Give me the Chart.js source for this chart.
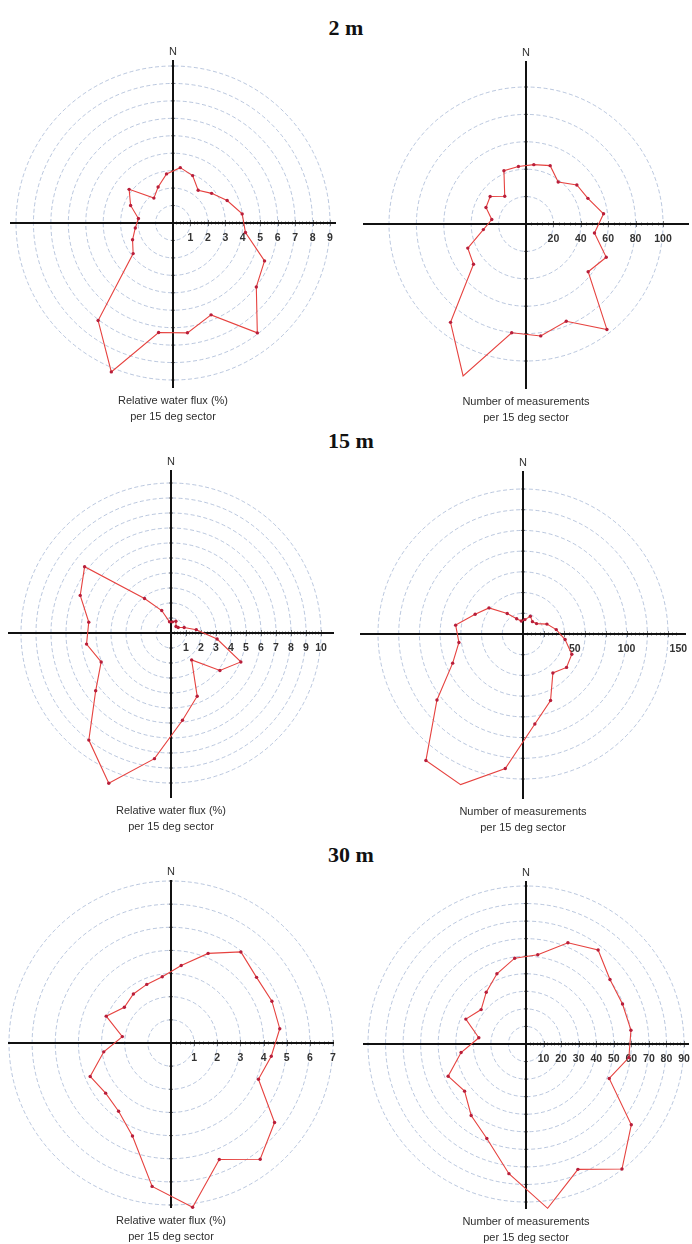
<!DOCTYPE html>
<html><head><meta charset="utf-8">
<script src="https://cdn.jsdelivr.net/npm/chart.js@4.4.1/dist/chart.umd.min.js"></script>
<style>
html,body{margin:0;padding:0;background:#fff;overflow:hidden;width:692px;height:1244px;position:relative}
.t{position:absolute;font-family:'Liberation Serif','DejaVu Serif',serif;font-weight:bold;font-size:22px;color:#111;transform:translate(-50%,-50%);white-space:nowrap}
.n{position:absolute;font:11px 'Liberation Sans',Arial,sans-serif;color:#333;transform:translate(-50%,-50%)}
.c{position:absolute;font:11px/16px 'Liberation Sans',Arial,sans-serif;color:#2e2e2e;transform:translate(-50%,0);text-align:center;white-space:nowrap}
canvas{position:absolute}
</style></head><body>
<script>
// Sector mid-angles (deg, clockwise from N)
const sectors = [7.5,22.5,37.5,52.5,67.5,82.5,97.5,112.5,127.5,142.5,157.5,172.5,187.5,202.5,217.5,232.5,247.5,262.5,277.5,292.5,307.5,322.5,337.5,352.5];

// 2 m
const flux2m  = [3.2,2.94,2.37,2.79,3.36,4.0,4.19,5.68,6.02,7.94,5.7,6.35,6.33,9.24,7.05,2.88,2.51,2.18,2.0,2.63,3.17,1.8,2.23,2.84];
const count2m = [43.7,46.1,38.6,46.8,48.9,57.1,50.4,63.4,57.2,97,76.8,82.4,80.1,120,90.5,48.3,46,31.4,25.2,31.6,33,25.5,42.1,42.3];
// 15 m
const flux15m  = [0.75,0.85,0.55,0.6,0.95,1.7,3.1,5.04,4.11,2.26,4.56,5.87,8.45,10.84,9.0,6.33,5.04,5.68,5.53,6.55,7.26,2.9,1.62,0.75];
const count15m = [14,18.5,15,16.5,25,32.4,41,51,53,47.4,69.5,87.7,131,157.4,154,104.7,73.5,62.4,65.6,50,41.4,25,16,12.6];
// 30 m
const flux30m  = [3.38,4.19,4.96,4.66,4.72,4.74,4.37,4.09,5.64,6.33,5.45,7.16,6.25,4.35,3.72,3.56,3.78,2.93,2.12,3.03,2.54,2.67,2.74,2.89];
const count30m = [51.3,62.4,67.5,60.3,59.5,60.3,59.1,51.3,75.6,89.8,77.3,94.4,74.5,58.3,51.3,44.1,48,37.3,27.1,37.1,32.2,37.2,43.3,49.3];

// Axis tick labels
const ticksFlux2m  = [1,2,3,4,5,6,7,8,9];
const ticksCount2m = [20,40,60,80,100];
const ticksFlux15m  = [1,2,3,4,5,6,7,8,9,10];
const ticksCount15m = [50,100,150];
const ticksFlux30m  = [1,2,3,4,5,6,7];
const ticksCount30m = [10,20,30,40,50,60,70,80,90];

const titles = ['2 m','15 m','30 m'];
const captionFlux  = ['Relative water flux (%)','per 15 deg sector'];
const captionCount = ['Number of measurements','per 15 deg sector'];

// layout (page geometry)
const panels = [
  {data:flux2m,  max:9,   step:1,  ticks:ticksFlux2m,  cap:captionFlux,  cx:173, cy:223, R:157},
  {data:count2m, max:100, step:20, ticks:ticksCount2m, cap:captionCount, cx:526, cy:224, R:137},
  {data:flux15m, max:10,  step:1,  ticks:ticksFlux15m, cap:captionFlux,  cx:171, cy:633, R:150},
  {data:count15m,max:140, step:20, ticks:ticksCount15m,cap:captionCount, cx:523, cy:634, R:145},
  {data:flux30m, max:7,   step:1,  ticks:ticksFlux30m, cap:captionFlux,  cx:171, cy:1043, R:162},
  {data:count30m,max:90,  step:10, ticks:ticksCount30m,cap:captionCount, cx:526, cy:1044, R:158}
];
const titlePos = [[346,28],[351,441],[351,855]];

titles.forEach((t,i)=>{
  const d=document.createElement('div'); d.className='t'; d.textContent=t;
  d.style.left=titlePos[i][0]+'px'; d.style.top=titlePos[i][1]+'px'; document.body.appendChild(d);
});

const crossPlugin = {
  id:'cross',
  beforeDatasetsDraw(chart, args, o){
    const s=chart.scales.r, ctx=chart.ctx, x0=s.xCenter, y0=s.yCenter, L=o.half;
    ctx.save();
    // minor ticks along positive x-axis
    ctx.strokeStyle='#777'; ctx.lineWidth=1; ctx.beginPath();
    const last=o.labels[o.labels.length-1];
    const minor=o.step/5;
    for(let k=1; k*minor<=last+1e-9; k++){
      const d=s.getDistanceFromCenterForValue(k*minor);
      const h=(k%5===0)?3:1.5;
      ctx.moveTo(Math.round(x0+d)+0.5,y0-h); ctx.lineTo(Math.round(x0+d)+0.5,y0+h);
    }
    // small ticks on vertical axis at ring values
    for(let v=o.step; v<=o.max+1e-9; v+=o.step){
      const d=s.getDistanceFromCenterForValue(v);
      ctx.moveTo(x0-2,y0-d); ctx.lineTo(x0+2,y0-d);
      ctx.moveTo(x0-2,y0+d); ctx.lineTo(x0+2,y0+d);
    }
    ctx.stroke();
    // axis cross
    ctx.strokeStyle='#111'; ctx.lineWidth=2; ctx.beginPath();
    ctx.moveTo(x0-L,y0); ctx.lineTo(x0+L,y0);
    ctx.moveTo(x0,y0-L); ctx.lineTo(x0,y0+L+2);
    ctx.stroke();
    // tick labels
    ctx.fillStyle='#333'; ctx.font='bold 10.5px "Liberation Sans", Arial, sans-serif';
    ctx.textAlign='center'; ctx.textBaseline='middle';
    o.labels.forEach(v=>{
      const d=s.getDistanceFromCenterForValue(v);
      ctx.fillText(String(v), x0+d, y0+15);
    });
    ctx.restore();
  }
};

panels.forEach(p=>{
  const W=336, H=350, ox=p.cx-170, oy=p.cy-175;
  const cv=document.createElement('canvas');
  cv.width=W; cv.height=H; cv.style.left=ox+'px'; cv.style.top=oy+'px';
  cv.style.width=W+'px'; cv.style.height=H+'px';
  document.body.appendChild(cv);
  const n=document.createElement('div'); n.className='n'; n.textContent='N';
  n.style.left=p.cx+'px'; n.style.top=(p.cy-172)+'px'; document.body.appendChild(n);
  const c=document.createElement('div'); c.className='c'; c.innerHTML=p.cap[0]+'<br>'+p.cap[1];
  c.style.left=p.cx+'px'; c.style.top=(p.cy+169)+'px'; document.body.appendChild(c);

  new Chart(cv.getContext('2d'),{
    type:'radar',
    data:{labels:sectors, datasets:[{
      data:p.data, borderColor:'#e6423f', borderWidth:1.1, fill:false, tension:0,
      pointRadius:1.7, pointBackgroundColor:'#b81e3a', pointBorderWidth:0, clip:false
    }]},
    options:{
      responsive:false, animation:false, devicePixelRatio:1,
      layout:{padding:{left:170-p.R, right:166-p.R, top:175-p.R, bottom:175-p.R}},
      plugins:{legend:{display:false}, tooltip:{enabled:false},
        cross:{half:163, labels:p.ticks, step:p.step, max:p.max}},
      scales:{r:{
        min:0, max:p.max, startAngle:7.5,
        ticks:{display:false, stepSize:p.step},
        pointLabels:{display:false},
        angleLines:{display:false},
        grid:{circular:true, color:'rgba(140,162,200,0.6)', lineWidth:1},
        border:{dash:[4,2.5]}
      }}
    },
    plugins:[crossPlugin]
  });
});
</script>
</body></html>
